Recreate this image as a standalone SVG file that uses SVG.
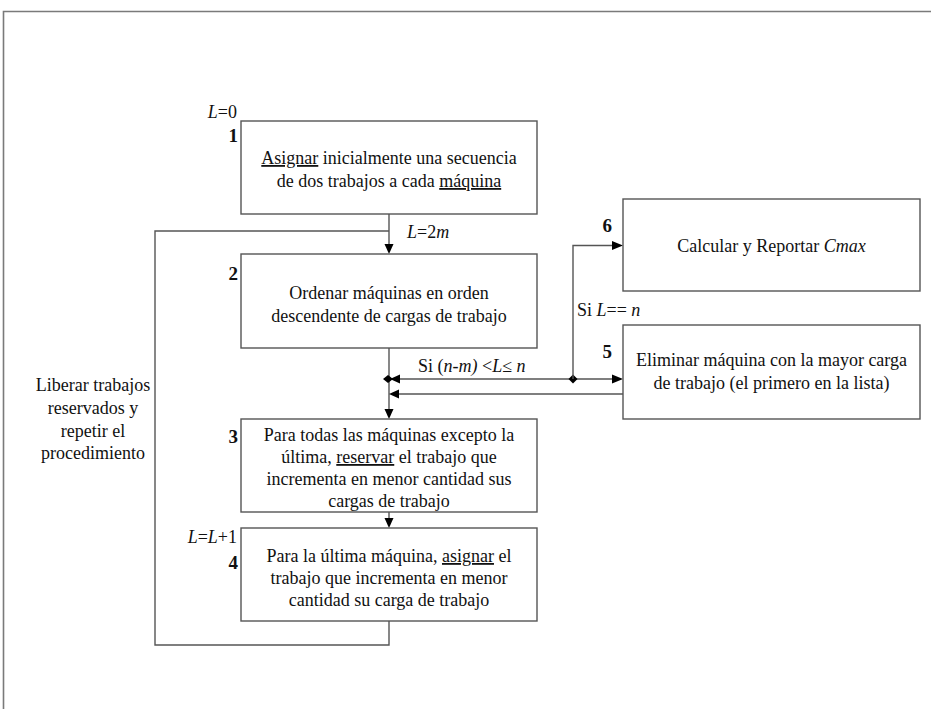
<svg xmlns="http://www.w3.org/2000/svg" width="931" height="709" viewBox="0 0 931 709">
<style>
text{font-family:"Liberation Serif","Times New Roman",serif;font-size:18px;fill:#111}
.c{text-anchor:middle}
.num{font-weight:bold;font-size:19px;text-anchor:end}
.box{fill:#fff;stroke:#555;stroke-width:1.4}
.ln{fill:none;stroke:#555;stroke-width:1.4}
.i{font-style:italic}
.u{text-decoration:underline}
.ah{fill:#000}
</style>
<rect width="931" height="709" fill="#fff"/>
<g id="frame"><path d="M3.5,709 V11.5 H931" fill="none" stroke="#7a7a7a" stroke-width="1.6"/></g>
<g id="connectors">
<path class="ln" d="M389,214 V246"/>
<path class="ah" d="M384.5,244 L393.5,244 L389,254 Z"/>
<path class="ln" d="M389,621 V645 H155 V231 H389"/>
<path class="ln" d="M389,348 V411"/>
<path class="ah" d="M384.5,409 L393.5,409 L389,419 Z"/>
<path class="ln" d="M389,379 H614"/>
<path class="ah" d="M612,374.5 L612,383.5 L623,379 Z"/>
<path class="ah" d="M400,374.5 L400,383.5 L390,379 Z"/>
<path class="ah" d="M383,379 L388,375 L393,379 L388,383 Z"/>
<path class="ah" d="M568.5,379 L573,374.5 L577.5,379 L573,383.5 Z"/>
<path class="ln" d="M573,379 V245.5 H614"/>
<path class="ah" d="M612,241 L612,250 L623,245.5 Z"/>
<path class="ln" d="M623,394 H397"/>
<path class="ah" d="M399,389.5 L399,398.5 L389,394 Z"/>
<path class="ln" d="M389,512 V520"/>
<path class="ah" d="M384.5,518 L393.5,518 L389,528 Z"/>
<text x="93" y="391" class="c">Liberar trabajos</text>
<text x="93" y="414" class="c">reservados y</text>
<text x="93" y="437" class="c">repetir el</text>
<text x="93" y="459" class="c">procedimiento</text>
<text x="407" y="238"><tspan class="i">L</tspan>=2<tspan class="i">m</tspan></text>
<text x="418" y="372">Si (<tspan class="i">n-m) </tspan>&lt;<tspan class="i">L</tspan>≤ <tspan class="i">n</tspan></text>
<text x="577" y="316">Si <tspan class="i">L</tspan>== <tspan class="i">n</tspan></text>
</g>
<g id="n1">
<rect class="box" x="241" y="121" width="296" height="93"/>
<text x="237" y="118" style="text-anchor:end"><tspan class="i">L</tspan>=0</text>
<text x="238" y="142" class="num">1</text>
<text x="389" y="164" class="c"><tspan class="u">Asignar</tspan> inicialmente una secuencia</text>
<text x="389" y="187" class="c">de dos trabajos a cada <tspan class="u">máquina</tspan></text>
</g>
<g id="n2">
<rect class="box" x="241" y="254" width="296" height="94"/>
<text x="238" y="280" class="num">2</text>
<text x="389" y="299" class="c">Ordenar máquinas en orden</text>
<text x="389" y="322" class="c">descendente de cargas de trabajo</text>
</g>
<g id="n3">
<rect class="box" x="241" y="419" width="296" height="93"/>
<text x="238" y="443" class="num">3</text>
<text x="389" y="441" class="c">Para todas las máquinas excepto la</text>
<text x="389" y="463" class="c">última, <tspan class="u">reservar</tspan> el trabajo que</text>
<text x="389" y="485" class="c">incrementa en menor cantidad sus</text>
<text x="389" y="507" class="c">cargas de trabajo</text>
</g>
<g id="n4">
<rect class="box" x="241" y="528" width="296" height="93"/>
<text x="237" y="543" style="text-anchor:end"><tspan class="i">L</tspan>=<tspan class="i">L</tspan>+1</text>
<text x="238" y="569" class="num">4</text>
<text x="389" y="562" class="c">Para la última máquina, <tspan class="u">asignar</tspan> el</text>
<text x="389" y="584" class="c">trabajo que incrementa en menor</text>
<text x="389" y="606" class="c">cantidad su carga de trabajo</text>
</g>
<g id="n6">
<rect class="box" x="623" y="199" width="297" height="92"/>
<text x="612" y="232" class="num">6</text>
<text x="771.5" y="252" class="c">Calcular y Reportar <tspan class="i">Cmax</tspan></text>
</g>
<g id="n5">
<rect class="box" x="623" y="325" width="297" height="94"/>
<text x="612" y="358" class="num">5</text>
<text x="771.5" y="366" class="c">Eliminar máquina con la mayor carga</text>
<text x="771.5" y="389" class="c">de trabajo (el primero en la lista)</text>
</g>
</svg>
